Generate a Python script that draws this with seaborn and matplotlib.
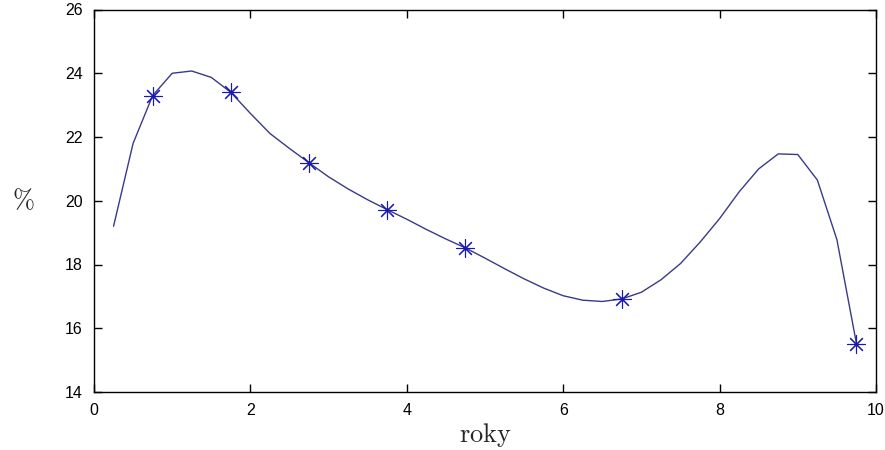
import matplotlib
matplotlib.use("Agg")
import matplotlib.pyplot as plt
import seaborn as sns
import pandas as pd

# curve samples (years, %)
curve_x = [0.25, 0.5, 0.75, 1.0, 1.25, 1.5, 1.75, 2.0, 2.25, 2.5, 2.75, 3.0, 3.25,
           3.5, 3.75, 4.0, 4.25, 4.5, 4.75, 5.0, 5.25, 5.5, 5.75, 6.0, 6.25, 6.5,
           6.75, 7.0, 7.25, 7.5, 7.75, 8.0, 8.25, 8.5, 8.75, 9.0, 9.25, 9.5, 9.75]
curve_y = [19.2, 21.8, 23.3, 24.0, 24.07, 23.87, 23.4, 22.74, 22.11, 21.64, 21.19,
           20.75, 20.37, 20.03, 19.72, 19.42, 19.1, 18.8, 18.52, 18.2, 17.87, 17.55,
           17.26, 17.02, 16.88, 16.84, 16.92, 17.13, 17.52, 18.03, 18.7, 19.44,
           20.28, 21.0, 21.47, 21.45, 20.65, 18.78, 15.52]

# measured points
pts_x = [0.75, 1.75, 2.75, 3.75, 4.75, 6.75, 9.75]
pts_y = [23.3, 23.4, 21.2, 19.72, 18.52, 16.92, 15.52]

x_ticks = [0, 2, 4, 6, 8, 10]
y_ticks = [14, 16, 18, 20, 22, 24, 26]

sns.set_style("ticks")
plt.rcParams["font.family"] = ["Liberation Sans", "DejaVu Sans"]
plt.rcParams["mathtext.fontset"] = "cm"

fig = plt.figure(figsize=(8.85, 4.5), dpi=100)
ax = fig.add_axes([94 / 885, 58 / 450, 782 / 885, 382.5 / 450])

curve = pd.DataFrame({"x": curve_x, "y": curve_y})
pts = pd.DataFrame({"x": pts_x, "y": pts_y})

sns.lineplot(data=curve, x="x", y="y", ax=ax, color="#3a3a88", linewidth=1.0,
             sort=False, estimator=None)
sns.lineplot(data=pts, x="x", y="y", ax=ax, color="#1a1ab0", linestyle="",
             marker=(8, 2, 0), markersize=13, markeredgewidth=0.8,
             markeredgecolor="#1a1ab0", markerfacecolor="#1a1ab0",
             sort=False, estimator=None)

ax.set_xlim(0, 10)
ax.set_ylim(14, 26)
ax.set_xticks(x_ticks)
ax.set_yticks(y_ticks)
ax.set_xticklabels([str(v) for v in x_ticks])
ax.set_yticklabels([str(v) for v in y_ticks])
ax.tick_params(direction="in", length=6, width=1, top=True, right=True,
               labelsize=11.5, pad=8, colors="black")
for s in ax.spines.values():
    s.set_visible(True)
    s.set_color("black")
    s.set_linewidth(1.0)

ax.set_xlabel(r"$\mathrm{roky}$", fontsize=19, labelpad=2)
ax.set_ylabel(r"$\%$", fontsize=19, rotation=0, labelpad=30, va="center")

fig.savefig("out.png", dpi=100)
